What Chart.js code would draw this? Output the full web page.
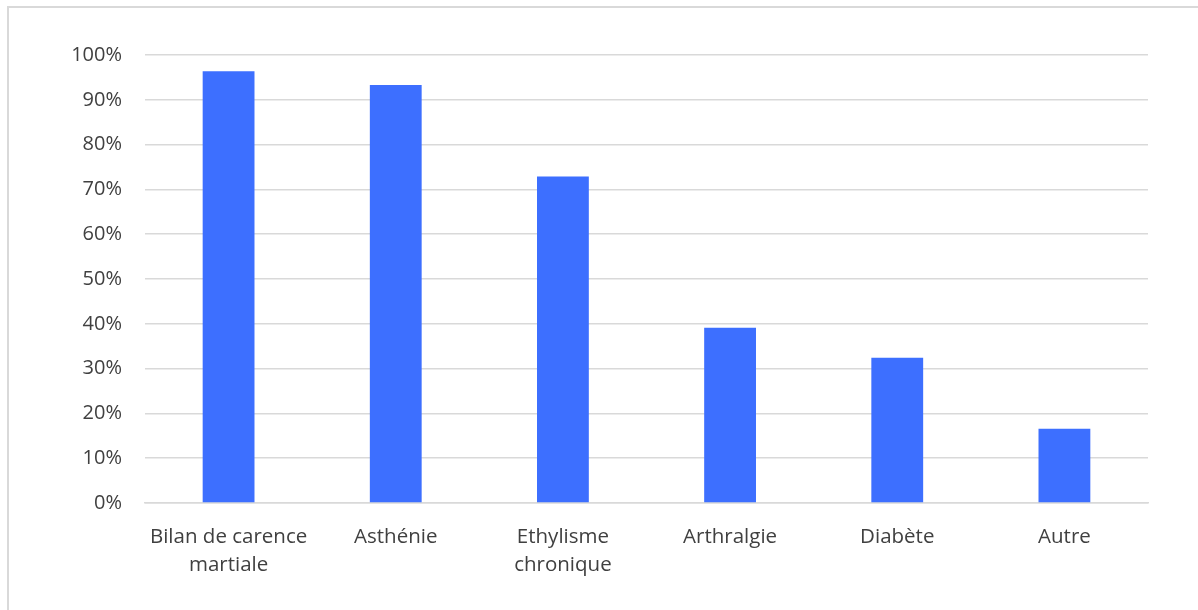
<!DOCTYPE html>
<html>
<head>
<meta charset="utf-8">
<script src="https://cdn.jsdelivr.net/npm/chart.js@4"></script>
<style>
  html, body { margin: 0; padding: 0; background: #fff; }
  #wrap { position: relative; width: 1198px; height: 610px; overflow: hidden; }
  #frame { position: absolute; left: 7px; top: 6px; width: 1300px; height: 700px;
           border: 2px solid #d9d9d9; box-sizing: border-box; }
  #c { position: absolute; left: 0; top: 0; }
</style>
</head>
<body>
<div id="wrap">
  <div id="frame"></div>
  <canvas id="c" width="1198" height="610"></canvas>
</div>
<script>
const categories = [["Bilan de carence", "martiale"], "Asthénie", ["Ethylisme", "chronique"], "Arthralgie", "Diabète", "Autre"];
const percents = [96.4, 93.3, 72.9, 39.1, 32.4, 16.6];
const yTicks = [0, 10, 20, 30, 40, 50, 60, 70, 80, 90, 100];

Chart.defaults.font.family = "'Open Sans', sans-serif";
Chart.defaults.color = "#404040";

new Chart(document.getElementById("c"), {
    type: "bar",
    data: {
        labels: categories,
        datasets: [{
            data: percents,
            backgroundColor: "#3d6fff",
            barPercentage: 0.31,
            categoryPercentage: 1
        }]
    },
    options: {
        responsive: false,
        animation: false,
        layout: { padding: { top: 55, right: 50, left: 0, bottom: 0 } },
        plugins: { legend: { display: false }, tooltip: { enabled: false } },
        scales: {
            x: {
                grid: { display: false },
                border: { color: "#d9d9d9", width: 1.5 },
                ticks: { font: { size: 20.5, lineHeight: 1.37 }, padding: 12, maxRotation: 0, autoSkip: false },
                afterFit: s => { s.height = 107; }
            },
            y: {
                min: 0,
                max: 100,
                afterBuildTicks: s => { s.ticks = yTicks.map(v => ({ value: v })); },
                grid: { color: "#d9d9d9", lineWidth: 1.5, drawTicks: false },
                border: { display: false },
                ticks: { font: { size: 20 }, padding: 23, callback: v => v + "%" },
                afterFit: s => { s.width = 145; }
            }
        }
    }
});
</script>
</body>
</html>
